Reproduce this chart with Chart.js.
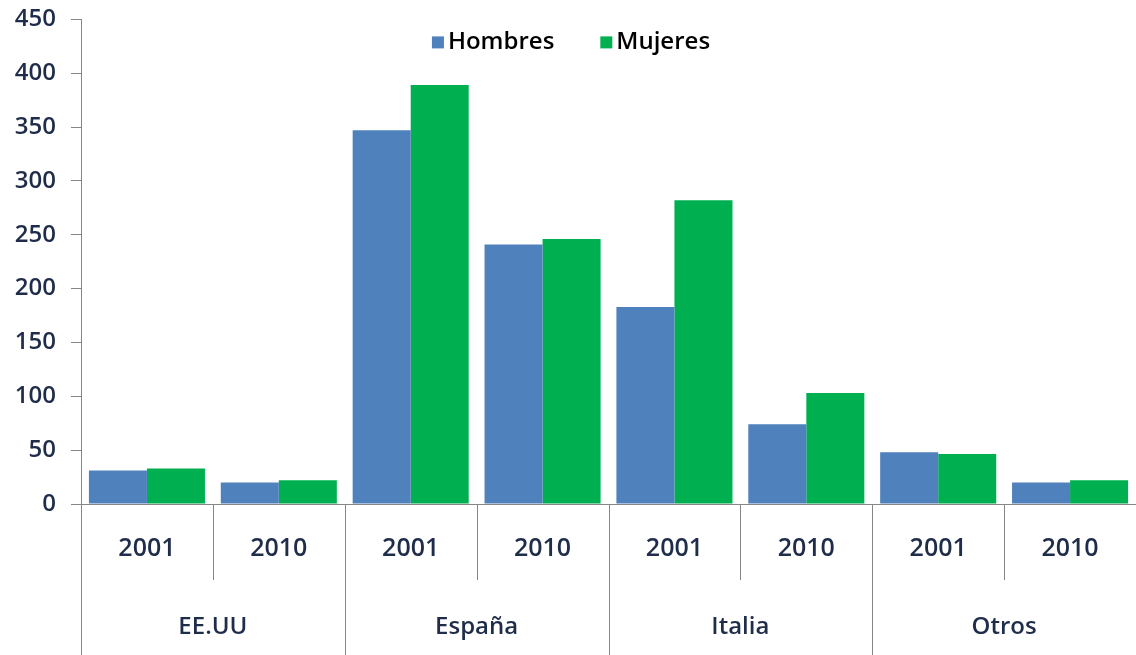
<!DOCTYPE html>
<html>
<head>
<meta charset="utf-8">
<script src="https://cdn.jsdelivr.net/npm/chart.js@4.4.0/dist/chart.umd.min.js"></script>
<style>
  html, body { margin: 0; padding: 0; background: #fff; overflow: hidden; }
  #wrap { width: 1136px; height: 665px; position: relative; margin-top: -10px; }
</style>
</head>
<body>
<div id="wrap"><canvas id="chart"></canvas></div>
<script>
// Data
const years = ['2001', '2010', '2001', '2010', '2001', '2010', '2001', '2010'];
const countries = ['EE.UU', 'España', 'Italia', 'Otros'];
const hombres = [31, 20, 347, 241, 183, 74, 48, 20];
const mujeres = [33, 22, 389, 246, 282, 103, 46.5, 22];
const yTicks = [0, 50, 100, 150, 200, 250, 300, 350, 400, 450];

const FONT = '"Open Sans", "Liberation Sans", sans-serif';
const FONT_SIZE = 24;
const FONT_WEIGHT = '600';
const LABEL_COLOR = '#1f2d4a';
const AXIS_COLOR = '#868686';

// Dividers below the axis plus country names
const groupAxisPlugin = {
    id: 'groupAxis',
    afterDraw(chart) {
        const ctx = chart.ctx;
        const x = chart.scales.x;
        const area = chart.chartArea;
        const base = area.bottom;
        const n = years.length;

        // boundaries between categories
        const bounds = [];
        for (let i = 0; i <= n; i++) {
            if (i === 0) bounds.push(area.left);
            else if (i === n) bounds.push(area.right);
            else bounds.push((x.getPixelForValue(i - 1) + x.getPixelForValue(i)) / 2);
        }

        ctx.save();
        ctx.strokeStyle = AXIS_COLOR;
        ctx.lineWidth = 1;
        for (let i = 0; i <= n; i++) {
            const px = Math.round(bounds[i]) + 0.5;
            const bottom = (i % 2 === 0) ? chart.height : base + 76;
            ctx.beginPath();
            ctx.moveTo(px, base);
            ctx.lineTo(px, bottom);
            ctx.stroke();
        }

        ctx.fillStyle = LABEL_COLOR;
        ctx.font = FONT_WEIGHT + ' ' + FONT_SIZE + 'px ' + FONT;
        ctx.textAlign = 'center';
        ctx.textBaseline = 'middle';
        countries.forEach((c, k) => {
            const cx = (bounds[k * 2] + bounds[k * 2 + 2]) / 2;
            ctx.fillText(c, cx, base + 123);
        });
        ctx.restore();
    }
};

// Legend drawn at the top centre of the canvas
const topLegendPlugin = {
    id: 'topLegend',
    afterDraw(chart) {
        const ctx = chart.ctx;
        const items = chart.data.datasets.map(ds => ({ label: ds.label, color: ds.backgroundColor }));
        ctx.save();
        ctx.font = FONT_WEIGHT + ' ' + FONT_SIZE + 'px ' + FONT;
        ctx.textBaseline = 'middle';
        ctx.textAlign = 'left';
        const box = 12, gapBox = 4, gapItem = 46;
        let total = 0;
        items.forEach((it, i) => {
            total += box + gapBox + ctx.measureText(it.label).width;
            if (i < items.length - 1) total += gapItem;
        });
        let px = chart.width / 2 - total / 2 + 3;
        const cy = chart.chartArea.top + 23;
        items.forEach(it => {
            ctx.fillStyle = it.color;
            ctx.fillRect(px, cy - box / 2, box, box);
            px += box + gapBox;
            ctx.fillStyle = '#000';
            ctx.fillText(it.label, px, cy);
            px += ctx.measureText(it.label).width + gapItem;
        });
        ctx.restore();
    }
};

new Chart(document.getElementById('chart').getContext('2d'), {
    type: 'bar',
    data: {
        labels: years,
        datasets: [
            {
                label: 'Hombres',
                data: hombres,
                backgroundColor: '#4f81bd',
                borderWidth: 0,
                categoryPercentage: 0.88,
                barPercentage: 1.0
            },
            {
                label: 'Mujeres',
                data: mujeres,
                backgroundColor: '#00b050',
                borderWidth: 0,
                categoryPercentage: 0.88,
                barPercentage: 1.0
            }
        ]
    },
    options: {
        responsive: true,
        maintainAspectRatio: false,
        animation: false,
        layout: {
            padding: { left: 13, right: 0, top: 0, bottom: 0 }
        },
        plugins: {
            legend: { display: false },
            tooltip: { enabled: false }
        },
        scales: {
            x: {
                grid: { display: false, drawTicks: false },
                border: { display: true, color: AXIS_COLOR, width: 1 },
                ticks: {
                    color: LABEL_COLOR,
                    font: { family: FONT, size: 25, weight: FONT_WEIGHT },
                    padding: 30,
                    maxRotation: 0,
                    autoSkip: false
                },
                afterFit(scale) {
                    scale.height = 151;
                }
            },
            y: {
                min: 0,
                max: 450,
                afterBuildTicks(scale) {
                    scale.ticks = yTicks.map(v => ({ value: v }));
                },
                grid: {
                    drawOnChartArea: false,
                    drawTicks: true,
                    tickLength: 10,
                    color: AXIS_COLOR
                },
                border: { display: true, color: AXIS_COLOR, width: 1 },
                ticks: {
                    color: LABEL_COLOR,
                    font: { family: FONT, size: FONT_SIZE, weight: FONT_WEIGHT },
                    padding: 15
                },
                afterFit(scale) {
                    scale.width = 68;
                }
            }
        }
    },
    plugins: [groupAxisPlugin, topLegendPlugin]
});
</script>
</body>
</html>
